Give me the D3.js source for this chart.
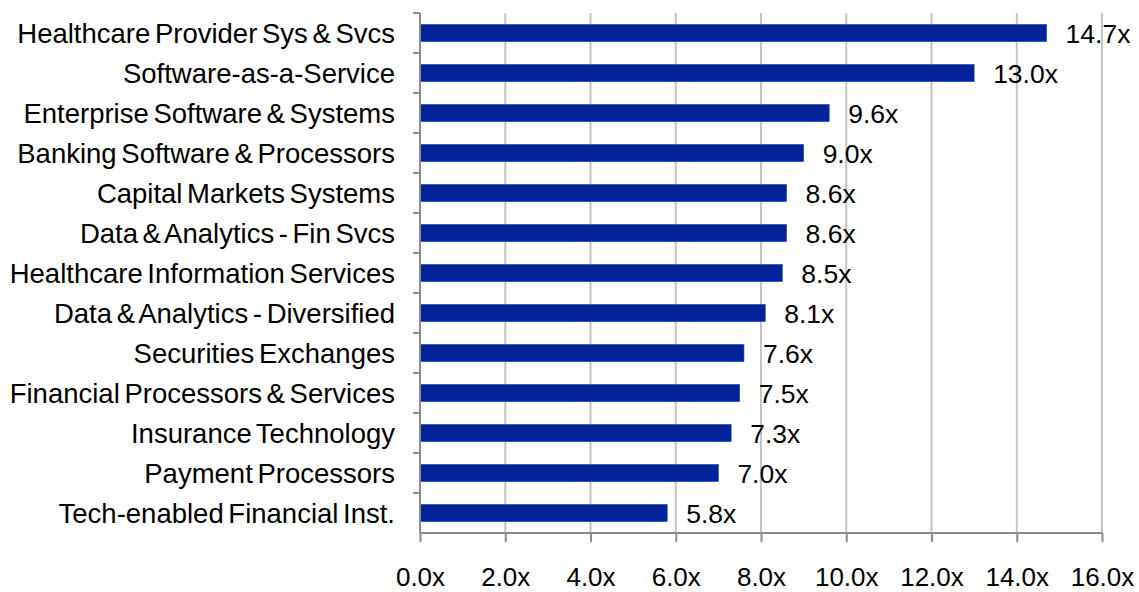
<!DOCTYPE html>
<html>
<head>
<meta charset="utf-8">
<script src="https://cdn.jsdelivr.net/npm/d3@7"></script>
<style>
  body { margin: 0; background: #fff; }
  text { font-family: "Liberation Sans", Arial, sans-serif; fill: #000; }
</style>
</head>
<body>
<svg width="1139" height="592"></svg>
<script>
const categories = [
  'Healthcare Provider Sys & Svcs',
  'Software-as-a-Service',
  'Enterprise Software & Systems',
  'Banking Software & Processors',
  'Capital Markets Systems',
  'Data & Analytics - Fin Svcs',
  'Healthcare Information Services',
  'Data & Analytics - Diversified',
  'Securities Exchanges',
  'Financial Processors & Services',
  'Insurance Technology',
  'Payment Processors',
  'Tech-enabled Financial Inst.'
];
const multiples = [14.7, 13.0, 9.6, 9.0, 8.6, 8.6, 8.5, 8.1, 7.6, 7.5, 7.3, 7.0, 5.8];
const xTicks = [0, 2, 4, 6, 8, 10, 12, 14, 16];

const svg = d3.select('svg');
const plotLeft = 420, plotRight = 1102, plotTop = 13, plotBottom = 533;

const x = d3.scaleLinear().domain([0, 16]).range([plotLeft, plotRight]);
const y = d3.scaleBand().domain(categories).range([plotTop, plotBottom]).paddingInner(0.57).paddingOuter(0.285);
const yb = d3.scaleBand().domain(categories).range([plotTop, plotBottom]);

// gridlines
svg.append('g')
  .selectAll('line')
  .data(xTicks.filter(d => d > 0))
  .enter().append('line')
  .attr('x1', d => x(d)).attr('x2', d => x(d))
  .attr('y1', plotTop).attr('y2', plotBottom)
  .attr('stroke', '#c4c4c4')
  .attr('stroke-width', 2);

// bars
svg.append('g')
  .selectAll('rect')
  .data(multiples)
  .enter().append('rect')
  .attr('x', x(0))
  .attr('y', (d, i) => y(categories[i]))
  .attr('width', d => x(d) - x(0))
  .attr('height', y.bandwidth())
  .attr('fill', '#00239a')
  .attr('stroke', '#2a44a8')
  .attr('stroke-width', 0.6);

// value labels
svg.append('g')
  .selectAll('text')
  .data(multiples)
  .enter().append('text')
  .attr('x', d => x(d) + 19)
  .attr('y', (d, i) => y(categories[i]) + y.bandwidth() / 2 + 1)
  .attr('dy', '0.35em')
  .style('font-size', '26.5px')
  .text(d => d.toFixed(1) + 'x');

// bottom axis
const xAxis = svg.append('g')
  .attr('transform', `translate(0, ${plotBottom})`)
  .call(d3.axisBottom(x).tickValues(xTicks).tickSize(9).tickPadding(26)
    .tickFormat(d => d.toFixed(1) + 'x'));
xAxis.select('.domain').attr('stroke', '#8c8c8c').attr('stroke-width', 2)
  .attr('d', `M${plotLeft},0H${plotRight}`);
xAxis.selectAll('.tick line').attr('stroke', '#8c8c8c').attr('stroke-width', 2);
xAxis.selectAll('.tick text').style('font-size', '26px').style('font-family', '"Liberation Sans", Arial, sans-serif');

// left axis
const yAxis = svg.append('g');
yAxis.append('line')
  .attr('x1', plotLeft).attr('x2', plotLeft)
  .attr('y1', plotTop).attr('y2', plotBottom)
  .attr('stroke', '#8c8c8c').attr('stroke-width', 2);
yAxis.selectAll('.bt')
  .data(categories)
  .enter().append('line')
  .attr('class', 'bt')
  .attr('x1', plotLeft - 7).attr('x2', plotLeft)
  .attr('y1', d => yb(d)).attr('y2', d => yb(d))
  .attr('stroke', '#8c8c8c').attr('stroke-width', 2);
yAxis.selectAll('text')
  .data(categories)
  .enter().append('text')
  .attr('x', 395)
  .attr('y', d => yb(d) + yb.bandwidth() / 2)
  .attr('dy', '0.35em')
  .attr('text-anchor', 'end')
  .style('font-size', '27.5px')
  .style('word-spacing', '-3px')
  .text(d => d);
</script>
</body>
</html>
